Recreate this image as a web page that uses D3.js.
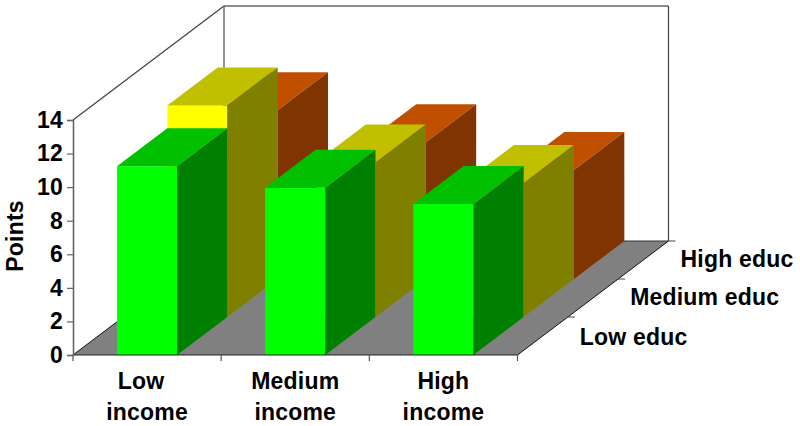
<!DOCTYPE html>
<html>
<head>
<meta charset="utf-8">
<script src="https://cdn.jsdelivr.net/npm/d3@7"></script>
<style>
html,body{margin:0;padding:0;background:#fff}
svg{display:block}
text{font-family:"Liberation Sans",Arial,sans-serif;font-weight:bold;font-size:23px;letter-spacing:.2px;fill:#000}
</style>
</head>
<body>
<svg id="c" width="800" height="426"></svg>
<script>
const incomeCategories = ["Low income", "Medium income", "High income"];
const educCategories = ["Low educ", "Medium educ", "High educ"];
const lowEduc = [11.25, 9.97, 9.0];
const mediumEduc = [12.6, 9.2, 7.98];
const highEduc = [10.05, 8.15, 6.5];
const yTicks = [0, 2, 4, 6, 8, 10, 12, 14];
const seriesColors = [
  {front: "#00ff00", top: "#00c000", side: "#008000"},
  {front: "#ffff00", top: "#c0c000", side: "#808000"},
  {front: "#ff6600", top: "#c05000", side: "#803400"}
];
const seriesValues = [lowEduc, mediumEduc, highEduc];

const svg = d3.select("#c");
const x = d3.scaleBand().domain(incomeCategories).range([73, 517.5]).paddingInner(0).paddingOuter(0);
const y = d3.scaleLinear().domain([0, 14]).range([355, 120]);
const depthX = d3.scaleLinear().domain([0, 3]).range([0, 151]);
const depthY = d3.scaleLinear().domain([0, 3]).range([0, -114]);
const barW = 60, barInset = 44;
const pt = (px, py, d) => [px + depthX(d), py + depthY(d)];
const poly = pts => pts.map(p => p.join(",")).join(" ");
const x0 = x.range()[0], x1 = x.range()[1], yb = y(0), yt = y(14);

// walls
const wall = "#404040";
const L = (a, b, c, w) => svg.append("line").attr("x1", a[0]).attr("y1", a[1]).attr("x2", b[0]).attr("y2", b[1]).attr("stroke", c).attr("stroke-width", w);
L(pt(x0, yt, 0), pt(x0, yt, 3), wall, 1.2);
L(pt(x0, yt, 3), pt(x1, yt, 3), "#666", 1.6);
L(pt(x0, yt, 3), pt(x0, yb, 3), "#666", 1.4);
L(pt(x1, yt, 3), pt(x1, yb, 3), wall, 1.2);

// floor
svg.append("polygon").attr("points", poly([pt(x0, yb, 0), pt(x1, yb, 0), pt(x1, yb, 3), pt(x0, yb, 3)])).attr("fill", "#808080");
L(pt(x0, yb, 0), pt(x0, yb, 3), "#111", 1);
L(pt(x1, yb, 0), pt(x1, yb, 3), "#111", 1);
L(pt(x0, yb, 3), pt(x1, yb, 3), "#333", 1);

// bars, back to front
const cells = [];
for (let s = 2; s >= 0; s--) {
  incomeCategories.forEach((c, i) => cells.push({s, c, v: seriesValues[s][i]}));
}
const bars = svg.selectAll("g.bar").data(cells).join("g").attr("class", "bar");
bars.each(function(d) {
  const g = d3.select(this);
  const l = x(d.c) + barInset, r = l + barW, t = y(d.v), b = yb, col = seriesColors[d.s];
  g.append("polygon").attr("points", poly([pt(l, t, d.s), pt(r, t, d.s), pt(r, b, d.s), pt(l, b, d.s)])).attr("fill", col.front);
  g.append("polygon").attr("points", poly([pt(l, t, d.s), pt(r, t, d.s), pt(r, t, d.s + 1), pt(l, t, d.s + 1)])).attr("fill", col.top);
  g.append("polygon").attr("points", poly([pt(r, t, d.s), pt(r, t, d.s + 1), pt(r, b, d.s + 1), pt(r, b, d.s)])).attr("fill", col.side);
});

// front baseline and axes
L([x0, yb], [x1, yb], "#222", 1.2);
const yAxis = d3.axisLeft(y).tickValues(yTicks).tickSize(6).tickPadding(4);
const gy = svg.append("g").attr("transform", `translate(${x0},0)`).call(yAxis);
gy.select(".domain").attr("stroke", "#666").attr("stroke-width", 1.6);
gy.selectAll(".tick line").attr("stroke", "#666").attr("stroke-width", 1.2);
gy.selectAll("text").style("font-family", '"Liberation Sans",Arial,sans-serif').style("font-size", "23px").style("font-weight", "bold");

// x ticks at category edges
const xEdges = incomeCategories.map(c => x(c)).concat([x1]);
xEdges.forEach(e => L([e, yb], [e, yb + 6], "#555", 1.2));

// depth ticks
[1, 2, 3].forEach(d => {
  const p = pt(x1, yb, d);
  L(p, [p[0] + 7, p[1]], "#444", 1);
});

// category labels (two lines)
const firstLineShift = [-6, 0, 0];
incomeCategories.forEach((c, i) => {
  const cx = x(c) + x.bandwidth() / 2, parts = c.split(" ");
  svg.append("text").attr("x", cx + firstLineShift[i]).attr("y", 389).attr("text-anchor", "middle").text(parts[0]);
  svg.append("text").attr("x", cx).attr("y", 420).attr("text-anchor", "middle").text(parts[1]);
});

// depth labels
educCategories.forEach((c, i) => {
  const p = pt(x1, yb, i + 1);
  const baseline = [345, 305, 267][i];
  svg.append("text").attr("x", p[0] + 12).attr("y", baseline).text(c);
});

// y title
svg.append("text").attr("transform", "translate(23,236) rotate(-90)").attr("text-anchor", "middle").text("Points");
</script>
</body>
</html>
